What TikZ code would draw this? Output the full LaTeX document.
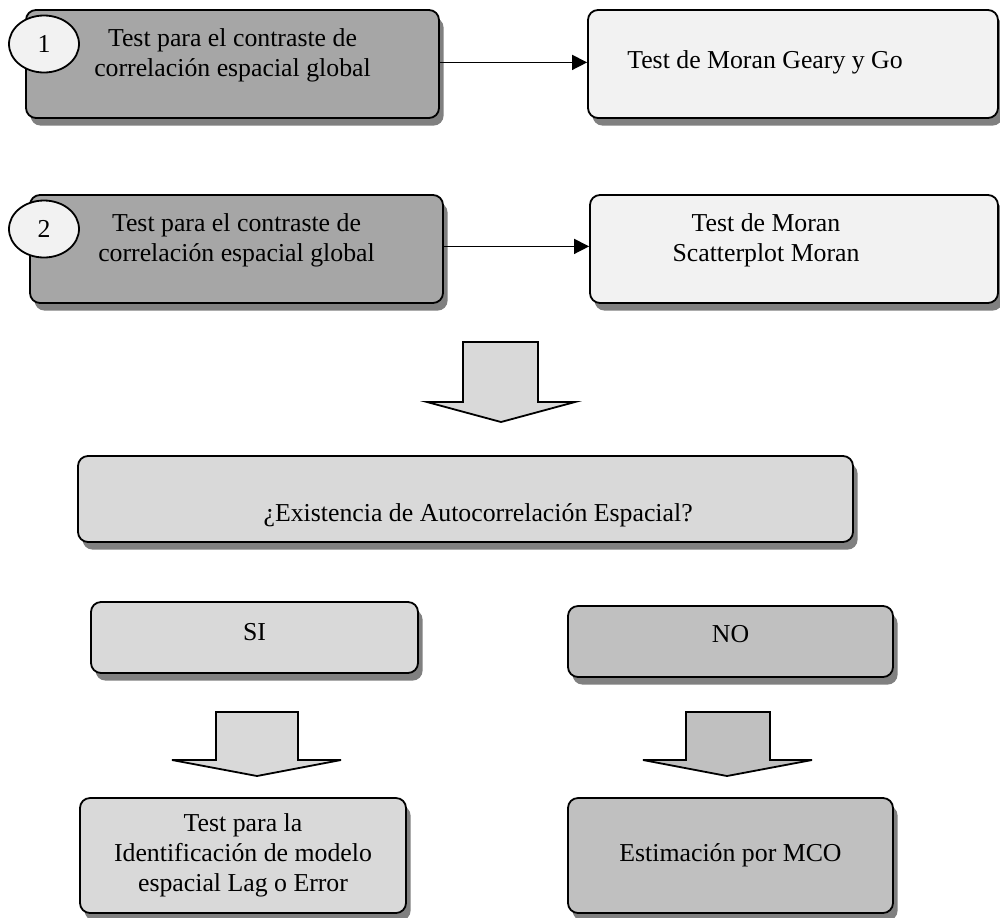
\documentclass[tikz,border=0pt]{standalone}
\usepackage{fontspec}
\setmainfont{Liberation Serif}
\usetikzlibrary{arrows.meta,positioning,shapes.geometric,shadows}
\definecolor{darkgrey}{HTML}{A6A6A6}
\definecolor{midgrey}{HTML}{C0C0C0}
\definecolor{lightgrey}{HTML}{D9D9D9}
\definecolor{palegrey}{HTML}{F2F2F2}
\definecolor{shadowgrey}{HTML}{808080}

\begin{document}
\begin{tikzpicture}[x=0.5pt,y=-0.5pt,font=\fontsize{12.9pt}{15pt}\selectfont,
   b/.style={draw,line width=0.9pt,rounded corners=5pt,inner sep=0pt,align=center,
             general shadow={fill=shadowgrey,shadow xshift=2.3pt,shadow yshift=-3.8pt}},
   txt/.style={align=center,inner sep=0pt},
   num/.style={draw,line width=0.9pt,ellipse,fill=palegrey,minimum width=35pt,
             minimum height=28.5pt,inner sep=0pt},
   blk/.style={draw,line width=0.9pt},
   conn/.style={-{Triangle[length=7.5pt,width=7.5pt]},line width=0.75pt}]
  \useasboundingbox (0,0) rectangle (1000,917);
  % step 1
  \node[b,fill=darkgrey,minimum width=206.5pt,minimum height=54pt] (glob1) at (232.5,64) {};
  \node[txt] (glob1txt) at ([yshift=4.5pt]glob1.center) {Test para el contraste de\\correlación espacial global};
  \node[b,fill=palegrey,minimum width=205pt,minimum height=54pt] (moran1) at (793,64) {};
  \node[txt] (moran1txt) at ([xshift=-14pt,yshift=1pt]moran1.center) {Test de Moran Geary y Go};
  \node[num] (num1) at (44,44) {1};
  \draw[conn] ([yshift=0.8pt]glob1.east) -- ([yshift=0.8pt]moran1.west);
  % step 2
  \node[b,fill=darkgrey,minimum width=206.5pt,minimum height=54pt] (glob2) at (236.5,249) {};
  \node[txt] (glob2txt) at ([yshift=4.5pt]glob2.center) {Test para el contraste de\\correlación espacial global};
  \node[b,fill=palegrey,minimum width=204pt,minimum height=54pt] (moran2) at (794,249) {};
  \node[txt] (moran2txt) at ([xshift=-14pt,yshift=4.5pt]moran2.center) {Test de Moran\\Scatterplot Moran};
  \node[num] (num2) at (44,229) {2};
  \draw[conn] ([yshift=1.3pt]glob2.east) -- ([yshift=1.3pt]moran2.west);
  % decision
  \draw[blk,fill=lightgrey] (463,342) -- (538,342) -- (538,402) -- (575,402) -- (501,422)
        -- (427,402) -- (463,402) -- cycle;
  \node[b,fill=lightgrey,minimum width=387.5pt,minimum height=43pt] (exist) at (465.5,499) {};
  \node[txt] (existtxt) at ([xshift=6.3pt,yshift=-8pt]exist.center) {¿Existencia de Autocorrelación Espacial?};
  \node[b,fill=lightgrey,minimum width=163.5pt,minimum height=35.5pt] (si) at (254.5,637.5) {};
  \node[txt] (sitxt) at ([yshift=2.8pt]si.center) {SI};
  \node[b,fill=midgrey,minimum width=162.5pt,minimum height=35.5pt] (no) at (730.5,641.5) {};
  \node[txt] (notxt) at ([yshift=3.8pt]no.center) {NO};
  \draw[blk,fill=lightgrey] (216,712) -- (298,712) -- (298,760) -- (341,760) -- (257,776)
        -- (172,760) -- (216,760) -- cycle;
  \draw[blk,fill=midgrey] (686,712) -- (770,712) -- (770,760) -- (812,760) -- (727,776)
        -- (643,760) -- (686,760) -- cycle;
  % results
  \node[b,fill=lightgrey,minimum width=163pt,minimum height=57.5pt] (lag) at (243,855.5)
        {Test para la\\Identificación de modelo\\espacial Lag o Error};
  \node[b,fill=midgrey,minimum width=162.5pt,minimum height=57.5pt] (mco) at (730.5,855.5)
        {Estimación por MCO};
\end{tikzpicture}
\end{document}
